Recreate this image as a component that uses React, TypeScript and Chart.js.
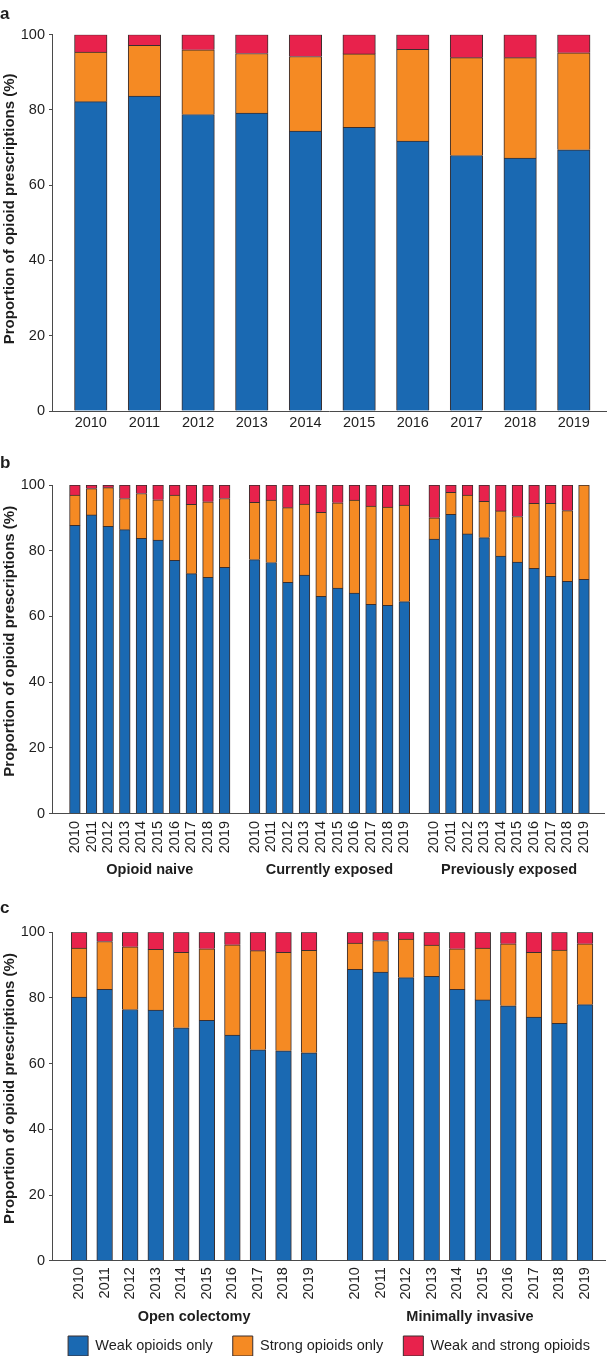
import { useEffect, useRef } from "react";
import { Chart, registerables } from "chart.js";

Chart.register(...registerables);

const FONT = "'Liberation Sans', Arial, Helvetica, sans-serif";
const TEXT = "#1e1e1e";
const AXIS = "#4a4a4a";
const EDGE = "#3a2e2e";
const COLORS = ["#1a69b2", "#f58a23", "#e8224c"];

const YEARS = ["2010", "2011", "2012", "2013", "2014", "2015", "2016", "2017", "2018", "2019"];
const SERIES = ["Weak opioids only", "Strong opioids only", "Weak and strong opioids"];
const Y_TITLE = "Proportion of opioid prescriptions (%)";

// a: all patients
const allWeak = [82.2, 83.7, 78.8, 79.2, 74.4, 75.4, 71.7, 67.9, 67.2, 69.4];
const allStrong = [13.2, 13.5, 17.2, 15.8, 19.8, 19.5, 24.4, 26.0, 26.7, 25.8];
const allBoth = [4.6, 2.8, 4.0, 5.0, 5.8, 5.1, 3.9, 6.1, 6.1, 4.8];

// b: by prior opioid exposure
const naiveWeak = [87.7, 90.9, 87.4, 86.4, 83.8, 83.2, 77.1, 73.0, 71.9, 74.9];
const naiveStrong = [9.2, 8.0, 11.8, 9.5, 13.6, 12.3, 19.8, 21.1, 23.0, 21.0];
const naiveBoth = [3.1, 1.1, 0.8, 4.1, 2.6, 4.5, 3.1, 5.9, 5.1, 4.1];

const currentWeak = [77.3, 76.4, 70.4, 72.6, 66.1, 68.6, 67.1, 63.7, 63.4, 64.5];
const currentStrong = [17.4, 19.0, 22.7, 21.6, 25.6, 26.0, 28.3, 29.9, 29.9, 29.4];
const currentBoth = [5.3, 4.6, 6.9, 5.8, 8.3, 5.4, 4.6, 6.4, 6.7, 6.1];

const previousWeak = [83.5, 91.1, 85.1, 84.0, 78.4, 76.5, 74.6, 72.2, 70.7, 71.3];
const previousStrong = [6.5, 6.7, 11.8, 11.0, 13.7, 13.9, 19.8, 22.2, 21.5, 28.7];
const previousBoth = [10.0, 2.2, 3.1, 5.0, 7.9, 9.6, 5.6, 5.6, 7.8, 0];

// c: by surgical approach
const openWeak = [80.3, 82.6, 76.5, 76.3, 70.9, 73.2, 68.7, 64.2, 63.9, 63.3];
const openStrong = [14.9, 14.6, 19.1, 18.5, 23.0, 21.8, 27.5, 30.2, 30.0, 31.2];
const openBoth = [4.8, 2.8, 4.4, 5.2, 6.1, 5.0, 3.8, 5.6, 6.1, 5.5];

const minWeak = [88.7, 87.9, 86.2, 86.6, 82.6, 79.4, 77.6, 74.2, 72.3, 78.0];
const minStrong = [8.0, 9.6, 11.7, 9.5, 12.4, 15.8, 18.9, 19.7, 22.3, 18.5];
const minBoth = [3.3, 2.5, 2.1, 3.9, 5.0, 4.8, 3.5, 6.1, 5.4, 3.5];

// distance (in bar slots) from one group's first bar to the next group's
const GROUP_STEP = 10.8;

interface Group {
    name: string;
    series: number[][];
}

interface PanelSpec {
    letter: string;
    letterY: number;
    top: number;
    height: number;
    padTop: number;
    padBottom: number;
    axisHeight: number;
    xMin: number;
    xMax: number;
    barThickness: number;
    rotate: boolean;
    tickPadding: number;
    titleShift: number;
    groupLabelY: number;
    legend: boolean;
    groups: Group[];
}

const PANELS: PanelSpec[] = [
    {
        letter: "a", letterY: 18.5, top: 0, height: 445,
        padTop: 34.7, padBottom: 0, axisHeight: 34,
        xMin: -0.7225, xMax: 9.6, barThickness: 32.5,
        rotate: false, tickPadding: 3, titleShift: -14, groupLabelY: 0, legend: false,
        groups: [{ name: "", series: [allWeak, allStrong, allBoth] }]
    },
    {
        letter: "b", letterY: 22.5, top: 445, height: 445,
        padTop: 40, padBottom: 0, axisHeight: 76.5,
        xMin: -1.377, xMax: 31.81, barThickness: 10.7,
        rotate: true, tickPadding: 7.5, titleShift: -8, groupLabelY: 425, legend: false,
        groups: [
            { name: "Opioid naive", series: [naiveWeak, naiveStrong, naiveBoth] },
            { name: "Currently exposed", series: [currentWeak, currentStrong, currentBoth] },
            { name: "Previously exposed", series: [previousWeak, previousStrong, previousBoth] }
        ]
    },
    {
        letter: "c", letterY: 23.3, top: 890, height: 466,
        padTop: 42.3, padBottom: -10, axisHeight: 55.3,
        xMin: -1.06, xMax: 20.59, barThickness: 15.7,
        rotate: true, tickPadding: 6.5, titleShift: -8, groupLabelY: 427, legend: true,
        groups: [
            { name: "Open colectomy", series: [openWeak, openStrong, openBoth] },
            { name: "Minimally invasive", series: [minWeak, minStrong, minBoth] }
        ]
    }
];

// legend row sits right of centre in the original
const LEGEND_SHIFT = 26;

function Panel({ spec }: { spec: PanelSpec }) {
    const canvasRef = useRef<HTMLCanvasElement>(null);

    useEffect(() => {
        const canvas = canvasRef.current;
        if (!canvas) return;

        const positions: number[] = [];
        const labels: string[] = [];
        spec.groups.forEach((_, gi) => {
            YEARS.forEach((year, i) => {
                positions.push(gi * GROUP_STEP + i);
                labels.push(year);
            });
        });

        const datasets = SERIES.map((name, s) => ({
            label: name,
            data: spec.groups.flatMap((g, gi) =>
                g.series[s].map((v, i) => ({ x: gi * GROUP_STEP + i, y: v }))
            ),
            backgroundColor: COLORS[s],
            borderColor: EDGE,
            borderWidth: 1,
            barThickness: spec.barThickness
        }));

        // panel letter, y title and group captions
        const decor = {
            id: "decor",
            afterLayout(chart: any) {
                if (spec.legend && chart.legend) {
                    chart.legend.left += LEGEND_SHIFT;
                    chart.legend.right += LEGEND_SHIFT;
                }
            },
            afterDraw(chart: Chart) {
                const ctx = chart.ctx;
                const area = chart.chartArea;
                const xs = chart.scales.x;
                ctx.save();
                ctx.fillStyle = TEXT;

                ctx.font = `bold 17px ${FONT}`;
                ctx.textAlign = "left";
                ctx.textBaseline = "alphabetic";
                ctx.fillText(spec.letter, 0, spec.letterY);

                ctx.save();
                ctx.translate(10, (area.top + area.bottom) / 2 + spec.titleShift);
                ctx.rotate(-Math.PI / 2);
                ctx.font = `bold 15px ${FONT}`;
                ctx.textAlign = "center";
                ctx.textBaseline = "middle";
                ctx.fillText(Y_TITLE, 0, 0);
                ctx.restore();

                if (spec.groups.length > 1) {
                    ctx.font = `bold 14.5px ${FONT}`;
                    ctx.textAlign = "center";
                    ctx.textBaseline = "middle";
                    spec.groups.forEach((g, gi) => {
                        const x = xs.getPixelForValue(gi * GROUP_STEP + (YEARS.length - 1) / 2);
                        ctx.fillText(g.name, x, spec.groupLabelY);
                    });
                }
                ctx.restore();
            }
        };

        const rot = spec.rotate ? 90 : 0;

        const chart = new Chart(canvas, {
            type: "bar",
            data: { datasets },
            options: {
                responsive: false,
                animation: false,
                events: [],
                layout: { padding: { top: spec.padTop, left: 0, right: 3, bottom: spec.padBottom } },
                scales: {
                    x: {
                        type: "linear",
                        stacked: true,
                        offset: false,
                        bounds: "data",
                        min: spec.xMin,
                        max: spec.xMax,
                        afterBuildTicks: (axis: any) => {
                            axis.ticks = positions.map(v => ({ value: v }));
                        },
                        afterFit: (axis: any) => {
                            axis.height = spec.axisHeight;
                        },
                        ticks: {
                            autoSkip: false,
                            minRotation: rot,
                            maxRotation: rot,
                            padding: spec.tickPadding,
                            color: TEXT,
                            font: { family: FONT, size: 14.5 },
                            callback: (_v: any, i: number) => labels[i]
                        },
                        grid: { display: false, drawTicks: false, offset: false },
                        border: { display: true, color: AXIS, width: 1 }
                    },
                    y: {
                        stacked: true,
                        min: 0,
                        max: 100,
                        afterFit: (axis: any) => {
                            axis.width = 52;
                        },
                        ticks: {
                            stepSize: 20,
                            padding: 4,
                            color: TEXT,
                            font: { family: FONT, size: 14.5 }
                        },
                        grid: {
                            display: true,
                            drawOnChartArea: false,
                            drawTicks: true,
                            tickLength: 3,
                            color: AXIS,
                            lineWidth: 1
                        },
                        border: { display: true, color: AXIS, width: 1 }
                    }
                },
                plugins: {
                    legend: {
                        display: spec.legend,
                        position: "bottom",
                        labels: {
                            boxWidth: 20,
                            boxHeight: 20,
                            padding: 20,
                            color: TEXT,
                            font: { family: FONT, size: 14.5 }
                        }
                    },
                    tooltip: { enabled: false }
                }
            },
            plugins: [decor]
        });

        return () => {
            chart.destroy();
        };
    }, [spec]);

    return (
        <div style={{ position: "absolute", left: 0, top: spec.top, width: 609, height: spec.height }}>
            <canvas ref={canvasRef} width={609} height={spec.height} />
        </div>
    );
}

export default function App() {
    return (
        <div style={{ position: "absolute", left: 0, top: 0, width: 609, height: 1356, overflow: "hidden", background: "#fff" }}>
            {PANELS.map(p => (
                <Panel key={p.letter} spec={p} />
            ))}
        </div>
    );
}
